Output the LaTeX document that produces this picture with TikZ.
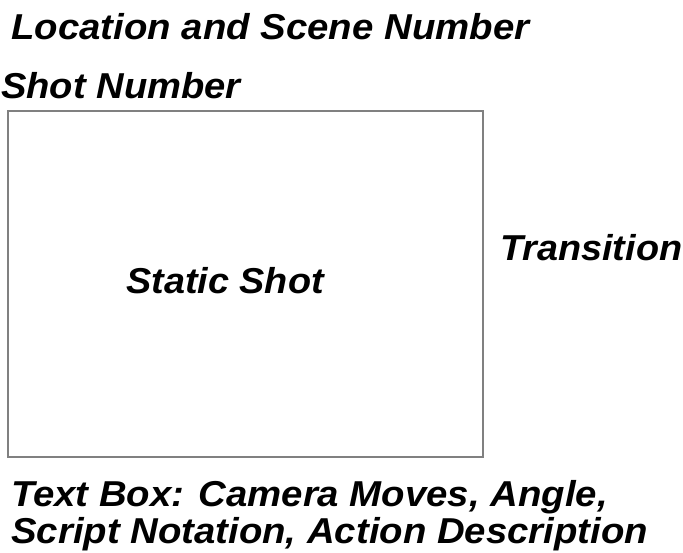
\documentclass[tikz,border=0pt]{standalone}
\usepackage{fontspec}
\setmainfont{Liberation Sans}
\begin{document}
\begin{tikzpicture}[x=1pt,y=-1pt,
  lbl/.style={inner sep=0pt,anchor=base west,font=\fontsize{36}{37}\selectfont\bfseries\itshape\addfontfeature{FakeStretch=#1}},
  lbl/.default=1.06,
  frame/.style={draw=black!50,line width=1.5pt}]
\useasboundingbox[fill=white] (0,0) rectangle (683,553);
\node[lbl=1.066] (loc) at (11,40) {Location and Scene Number};
\node[lbl=1.06] (shotnum) at (1,99) {Shot Number};
\draw[frame] (8,111) rectangle (483,457);
\node[lbl=1.05,anchor=base] (static) at (225,294) {Static Shot};
\node[lbl=1.05] (trans) at (500,261) {Transition};
\node[lbl=1.065] (textbox1) at (11,506) {Text Box: Camera Moves, Angle,};
\node[lbl=1.065] (textbox2) at (11,543) {Script Notation, Action Description};
\end{tikzpicture}
\end{document}
